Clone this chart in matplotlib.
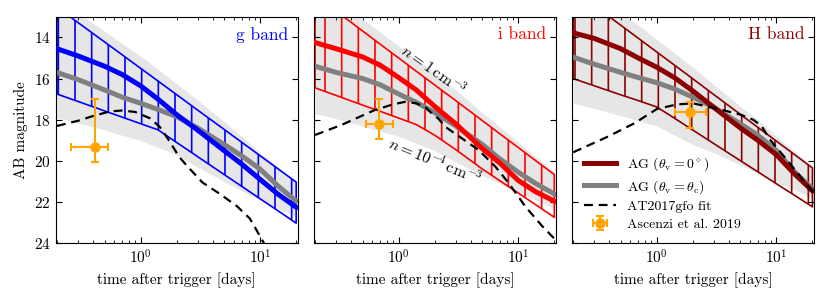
import numpy as np
import matplotlib
matplotlib.use("Agg")
import matplotlib.pyplot as plt

plt.rcParams['font.family'] = 'serif'
plt.rcParams['font.serif'] = ['cmr10']
plt.rcParams['mathtext.fontset'] = 'cm'
plt.rcParams['axes.formatter.use_mathtext'] = True
plt.rcParams['axes.unicode_minus'] = False
plt.rcParams['hatch.linewidth'] = 1.2

# common time grid for the afterglow curves [days]
t_grid = [0.2, 0.3, 0.5, 0.7, 1.0, 1.4, 2.0, 3.0, 5.0, 7.0, 10.0, 14.0, 20.0]

# g band
g_hatch_up = [12.53, 13.28, 14.22, 14.84, 15.5, 16.12, 16.78, 17.53, 18.47, 19.09, 19.75, 20.37, 21.03]
g_hatch_lo = [16.75, 17.11, 17.57, 17.87, 18.19, 18.49, 19.1, 19.79, 20.66, 21.23, 21.84, 22.41, 23.02]
g_on_axis = [14.55, 14.9, 15.4, 15.8, 16.35, 17.0, 17.75, 18.5, 19.5, 20.15, 20.9, 21.6, 22.25]
g_edge = [15.7, 16.05, 16.55, 16.9, 17.2, 17.5, 17.85, 18.4, 19.2, 19.75, 20.4, 21.2, 21.95]
g_env_up = [12.0, 12.8, 13.7, 14.3, 14.9, 15.55, 16.25, 17.05, 18.1, 18.8, 19.6, 20.3, 21.0]
g_env_lo = [17.9, 18.15, 18.5, 18.75, 19.0, 19.35, 19.7, 20.3, 21.0, 21.45, 21.9, 22.3, 22.7]
g_kn_t = [0.2, 0.3, 0.4, 0.55, 0.7, 0.9, 1.2, 1.45, 1.75, 2.1, 2.5, 3.3, 4.6, 6.4, 8.2, 10.3, 11.5]
g_kn = [18.3, 18.05, 17.82, 17.6, 17.55, 17.62, 17.93, 18.35, 19.05, 19.8, 20.3, 21.05, 21.6, 22.2, 22.8, 23.8, 24.3]
g_obs = (0.42, 19.3, [0.16, 0.11], [2.33, 0.77])

# i band
i_hatch_up = [11.96, 12.72, 13.69, 14.33, 15.0, 15.64, 16.31, 17.07, 18.04, 18.68, 19.35, 19.99, 20.66]
i_hatch_lo = [16.45, 16.82, 17.29, 17.59, 17.92, 18.23, 18.75, 19.45, 20.39, 20.96, 21.56, 22.13, 22.74]
i_on_axis = [14.25, 14.55, 14.95, 15.35, 15.95, 16.55, 17.35, 18.2, 19.4, 20.1, 20.95, 21.5, 21.95]
i_edge = [15.4, 15.7, 16.0, 16.3, 16.75, 17.15, 17.65, 18.3, 19.2, 19.9, 20.55, 21.1, 21.6]
i_env_up = [11.4, 12.2, 13.1, 13.75, 14.4, 15.05, 15.75, 16.55, 17.65, 18.35, 19.1, 19.8, 20.55]
i_env_lo = [17.7, 17.95, 18.3, 18.55, 18.8, 19.15, 19.5, 20.05, 20.7, 21.1, 21.5, 21.9, 22.3]
i_kn_t = [0.2, 0.33, 0.63, 0.9, 1.13, 1.4, 1.66, 1.9, 2.15, 2.45, 3.37, 4.64, 6.42, 8.3, 11.4, 15.8, 21.0]
i_kn = [18.74, 18.26, 17.53, 17.25, 17.13, 17.2, 17.37, 17.7, 17.95, 18.34, 18.9, 19.46, 20.27, 21.07, 22.2, 23.16, 23.9]
i_obs = (0.69, 18.2, [0.155, 0.21], [1.2, 0.73])

# H band
h_hatch_up = [11.68, 12.45, 13.41, 14.04, 14.71, 15.34, 16.01, 16.78, 17.74, 18.37, 19.04, 19.67, 20.34]
h_hatch_lo = [16.0, 16.35, 16.79, 17.07, 17.38, 17.92, 18.5, 19.16, 19.99, 20.53, 21.11, 21.65, 22.23]
h_on_axis = [13.78, 14.05, 14.55, 15.0, 15.45, 15.95, 16.6, 17.4, 18.4, 19.0, 19.7, 20.6, 21.45]
h_edge = [14.96, 15.3, 15.7, 15.95, 16.2, 16.5, 16.9, 17.4, 18.2, 18.75, 19.5, 20.5, 21.35]
h_env_up = [11.5, 12.0, 12.8, 13.4, 14.1, 14.75, 15.45, 16.3, 17.35, 18.0, 18.8, 19.5, 20.3]
h_env_lo = [17.2, 17.45, 17.8, 18.05, 18.3, 18.75, 19.2, 19.6, 20.2, 20.6, 21.05, 21.4, 21.8]
h_kn_t = [0.2, 0.39, 0.65, 1.0, 1.46, 2.0, 3.4, 5.0, 6.4, 7.5, 8.8, 10.0, 12.2, 20.7]
h_kn = [19.58, 18.82, 18.17, 17.48, 17.26, 17.2, 17.5, 17.75, 18.0, 18.3, 18.95, 19.35, 19.94, 21.6]
h_obs = (1.88, 17.61, [0.47, 0.71], [0.48, 0.8])

bands = [
    ('g band', 'blue', g_hatch_up, g_hatch_lo, g_on_axis, g_edge, g_env_up, g_env_lo, g_kn_t, g_kn, g_obs),
    ('i band', 'red', i_hatch_up, i_hatch_lo, i_on_axis, i_edge, i_env_up, i_env_lo, i_kn_t, i_kn, i_obs),
    ('H band', 'darkred', h_hatch_up, h_hatch_lo, h_on_axis, h_edge, h_env_up, h_env_lo, h_kn_t, h_kn, h_obs),
]

fig, axes = plt.subplots(1, 3, figsize=(8.3, 3), dpi=100, sharey=True)
fig.subplots_adjust(left=0.067, right=0.981, top=0.944, bottom=0.189, wspace=0.065)

for ax, (name, col, hup, hlo, on, edge, eup, elo, kt, kn, obs) in zip(axes, bands):
    ax.fill_between(t_grid, eup, elo, color='#e6e6e6', lw=0, zorder=0)
    ax.fill_between(t_grid, hlo, hup, facecolor='none', edgecolor=col, hatch='|', lw=1.2, zorder=1)
    ax.plot(t_grid, edge, color='gray', lw=3.6, zorder=2, label=r'AG ($\theta_{\rm v}=\theta_{\rm c}$)')
    ax.plot(t_grid, on, color=col, lw=3.6, zorder=3, label=r'AG ($\theta_{\rm v}=0^\circ$)')
    ax.plot(kt, kn, color='k', ls=(0, (4, 2.6)), lw=1.6, zorder=4, label='AT2017gfo fit')
    ax.errorbar(obs[0], obs[1], xerr=[[obs[2][0]], [obs[2][1]]], yerr=[[obs[3][0]], [obs[3][1]]],
                fmt='o', color='orange', ms=6.5, elinewidth=1.5, capsize=3, capthick=1.5, zorder=5,
                label='Ascenzi et al. 2019')
    ax.text(0.96, 0.955, name, color=col, fontsize=12.5, ha='right', va='top', transform=ax.transAxes)
    ax.set_xscale('log')
    ax.set_xlim(0.195, 20.7)
    ax.set_ylim(24, 13)
    ax.set_yticks([14, 16, 18, 20, 22, 24])
    ax.tick_params(which='both', direction='in', top=True, right=True, labelsize=11)
    ax.tick_params(which='major', length=4)
    ax.tick_params(which='minor', length=2)
    ax.set_xlabel('time after trigger [days]', fontsize=11)

axes[0].set_ylabel('AB magnitude', fontsize=11)

axes[1].text(1.95, 15.55, r'$n=1\,{\rm cm}^{-3}$', rotation=-35, fontsize=11.5,
             ha='center', va='center')
axes[1].text(2.03, 20.0, r'$n=10^{-4}\,{\rm cm}^{-3}$', rotation=-22, fontsize=11.5,
             ha='center', va='center')

h, l = axes[2].get_legend_handles_labels()
order = [1, 0, 2, 3]
axes[2].legend([h[k] for k in order], [l[k] for k in order], loc='lower left',
               frameon=False, fontsize=10, handlelength=2.3, labelspacing=0.35)

fig.savefig('out.png', dpi=100)
